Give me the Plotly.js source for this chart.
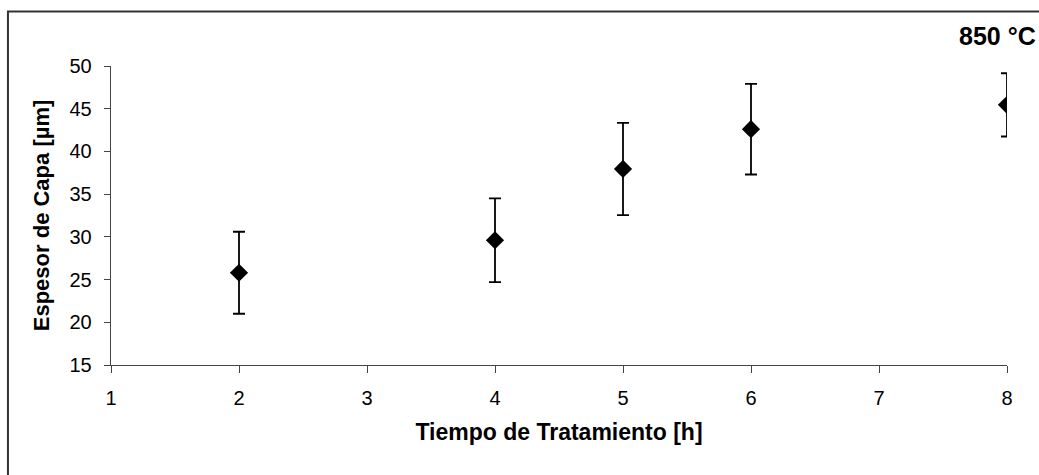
<!DOCTYPE html>
<html>
<head>
<meta charset="utf-8">
<script src="https://cdn.plot.ly/plotly-3.0.1.min.js"></script>
<style>
  html, body { margin: 0; padding: 0; background: #ffffff; }
  #chart { width: 1039px; height: 475px; }
</style>
</head>
<body>
<div id="chart"></div>
<script>
// Data
const tiempoHoras = [2, 4, 5, 6, 8];
const espesorMedio = [25.8, 29.6, 37.95, 42.6, 45.45];
const espesorError = [4.8, 4.9, 5.4, 5.3, 3.7];
const xTickValues = [1, 2, 3, 4, 5, 6, 7, 8];
const yTickValues = [15, 20, 25, 30, 35, 40, 45, 50];
const xTitle = "Tiempo de Tratamiento [h]";
const yTitle = "Espesor de Capa [µm]";
const tempLabel = "850 °C";

const FONT = "Liberation Sans, Arial, sans-serif";

const trace = {
  type: "scatter",
  mode: "markers",
  x: tiempoHoras,
  y: espesorMedio,
  marker: { symbol: "diamond", size: 14, color: "#000000" },
  error_y: {
    type: "data",
    array: espesorError,
    visible: true,
    color: "#000000",
    thickness: 1.8,
    width: 6
  },
  hoverinfo: "x+y"
};

const layout = {
  width: 1039,
  height: 475,
  margin: { l: 111, r: 32, t: 66, b: 110, pad: 0 },
  paper_bgcolor: "#ffffff",
  plot_bgcolor: "#ffffff",
  showlegend: false,
  font: { family: FONT, color: "#000000", size: 20 },
  xaxis: {
    range: [1, 8],
    tickvals: xTickValues,
    ticktext: xTickValues.map(String),
    ticks: "outside",
    ticklen: 7,
    tickwidth: 1,
    tickcolor: "#444444",
    showline: true,
    linecolor: "#444444",
    linewidth: 1.3,
    showgrid: false,
    zeroline: false,
    mirror: false,
    ticklabelstandoff: 8,
    tickfont: { family: FONT, size: 20, color: "#000000" },
    title: {
      text: xTitle,
      font: { family: FONT, size: 23, color: "#000000", weight: "bold" },
      standoff: 15
    }
  },
  yaxis: {
    range: [15, 50],
    tickvals: yTickValues,
    ticktext: yTickValues.map(String),
    ticks: "outside",
    ticklen: 6,
    tickwidth: 1,
    tickcolor: "#444444",
    showline: true,
    linecolor: "#444444",
    linewidth: 1.3,
    showgrid: false,
    zeroline: false,
    mirror: false,
    ticklabelstandoff: 8,
    tickfont: { family: FONT, size: 20, color: "#000000" },
    title: {
      text: yTitle,
      font: { family: FONT, size: 22, color: "#000000", weight: "bold" },
      standoff: 13
    }
  },
  annotations: [
    {
      text: tempLabel,
      xref: "paper",
      yref: "paper",
      x: 0.9442,
      y: 1.1003,
      xanchor: "left",
      yanchor: "middle",
      showarrow: false,
      font: { family: FONT, size: 25, color: "#000000", weight: "bold" }
    }
  ],
  shapes: [
    {
      type: "rect",
      xref: "paper",
      yref: "paper",
      x0: -0.1150,
      x1: 1.2,
      y0: -0.6,
      y1: 1.1823,
      line: { color: "#333333", width: 2 },
      fillcolor: "rgba(0,0,0,0)",
      layer: "below"
    }
  ]
};

Plotly.newPlot("chart", [trace], layout, { displayModeBar: false, staticPlot: true });
</script>
</body>
</html>
